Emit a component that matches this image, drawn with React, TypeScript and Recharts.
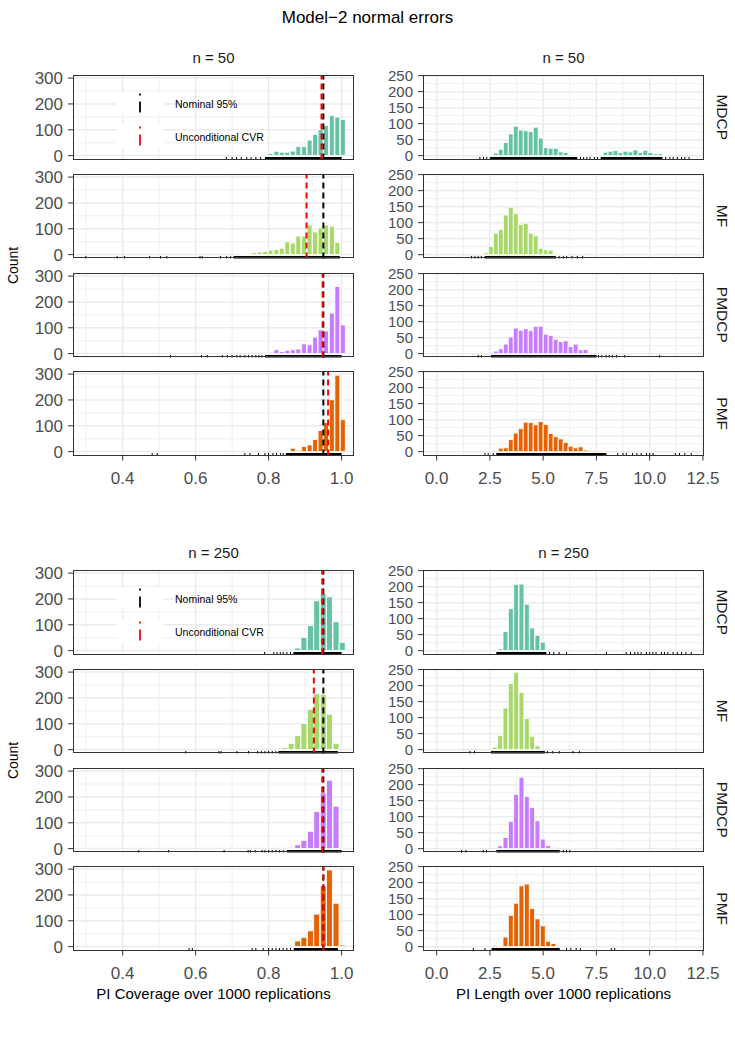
import React from 'react';
import { ComposedChart, Bar, XAxis, YAxis, CartesianGrid, ReferenceLine, ReferenceArea } from 'recharts';

const FONT = '"Liberation Sans", Arial, Helvetica, sans-serif';

// ---------- labels ----------
const chartTitle = 'Model\u22122 normal errors';
const methods = ['MDCP', 'MF', 'PMDCP', 'PMF'];
const methodColors = ['#66C2A5', '#A6D96A', '#C77CFF', '#E66101'];
const sampleSizeLabels = ['n = 50', 'n = 250'];
const coverageTitle = 'PI Coverage over 1000 replications';
const lengthTitle = 'PI Length over 1000 replications';
const countTitle = 'Count';
const legendLabels = ['Nominal 95%', 'Unconditional CVR'];
const legendColors = ['#000000', '#FF0000'];

// ---------- reference lines ----------
const nominalCoverage = 0.95;
const unconditionalCvrN50 = [0.945, 0.904, 0.948, 0.963];
const unconditionalCvrN250 = [0.947, 0.924, 0.947, 0.95];

// ---------- axis ticks ----------
const coverageTicks = [0.4, 0.6, 0.8, 1.0];
const coverageMinorTicks = [0.3, 0.5, 0.7, 0.9];
const lengthTicks = [0, 2.5, 5, 7.5, 10, 12.5];
const lengthMinorTicks = [1.25, 3.75, 6.25, 8.75, 11.25];
const coverageCountTicks = [0, 100, 200, 300];
const coverageCountMinor = [50, 150, 250];
const lengthCountTicks = [0, 50, 100, 150, 200, 250];
const lengthCountMinor = [25, 75, 125, 175, 225];
const coverageDomain = [0.264, 1.034];
const lengthDomain = [-0.64, 12.55];
const coverageCountDomain = [-15, 312];
const lengthCountDomain = [-12, 252];

// ---------- coverage histograms, n = 50 ----------
const covBinsN50 = [0.730, 0.746, 0.761, 0.776, 0.791, 0.806, 0.822, 0.837, 0.852, 0.867, 0.882, 0.898, 0.913, 0.928, 0.943, 0.958, 0.974, 0.989, 1.004];
const covMdcpN50 = [0, 1, 0, 1, 3, 8, 17, 13, 13, 18, 35, 35, 60, 82, 101, 117, 155, 149, 140];
const covMfN50 = [2, 4, 8, 10, 12, 17, 20, 25, 50, 45, 72, 72, 115, 88, 103, 115, 110, 47, 0];
const covPmdcpN50 = [0, 0, 0, 0, 2, 5, 15, 8, 13, 15, 18, 38, 34, 64, 92, 88, 157, 260, 111];
const covPmfN50 = [0, 0, 0, 0, 0, 0, 0, 0, 1, 13, 5, 20, 26, 47, 82, 112, 201, 296, 124];

// ---------- coverage histograms, n = 250 ----------
const covBinsN250 = [0.792, 0.810, 0.827, 0.845, 0.862, 0.880, 0.897, 0.915, 0.932, 0.950, 0.967, 0.985, 1.002];
const covMdcpN250 = [0, 0, 0, 0, 2, 10, 51, 97, 193, 220, 208, 112, 32];
const covMfN250 = [0, 0, 3, 8, 24, 54, 101, 156, 217, 214, 137, 24, 0];
const covPmdcpN250 = [0, 0, 0, 0, 3, 15, 32, 67, 144, 216, 265, 164, 2];
const covPmfN250 = [0, 0, 0, 0, 2, 22, 36, 61, 126, 235, 297, 168, 6];

// ---------- length histograms, n = 50 ----------
const lenBinsN50 = [2.078, 2.312, 2.546, 2.780, 3.014, 3.248, 3.482, 3.716, 3.950, 4.184, 4.418, 4.652, 4.886, 5.120, 5.354, 5.588, 5.822, 6.056, 6.290, 6.524, 6.758, 6.992, 7.226, 7.460, 7.694, 7.928, 8.162, 8.396, 8.630, 8.864, 9.098, 9.332, 9.566, 9.800, 10.034, 10.268, 10.502, 10.736];
const lenMdcpN50 = [0, 0, 1, 8, 20, 41, 68, 92, 80, 78, 75, 89, 55, 25, 23, 23, 12, 10, 4, 3, 1, 1, 0, 1, 2, 11, 14, 16, 10, 14, 12, 18, 10, 17, 10, 6, 6, 1];
const lenMfN50 = [0, 6, 26, 67, 79, 124, 148, 129, 94, 98, 67, 59, 20, 15, 14, 3, 2, 1, 0, 0, 0, 0, 0, 0, 0, 0, 0, 0, 0, 0, 0, 0, 0, 0, 0, 0, 0, 0];
const lenPmdcpN50 = [0, 0, 0, 8, 15, 30, 52, 80, 73, 78, 72, 86, 86, 61, 57, 45, 38, 40, 22, 30, 12, 13, 3, 0, 0, 0, 0, 0, 0, 0, 0, 0, 0, 0, 0, 0, 0, 0];
const lenPmfN50 = [0, 0, 0, 0, 11, 12, 38, 58, 72, 92, 91, 84, 94, 85, 57, 47, 40, 29, 17, 12, 15, 5, 4, 4, 3, 2, 0, 0, 0, 0, 0, 0, 0, 0, 0, 0, 0, 0];

// ---------- length histograms, n = 250 ----------
const lenBinsN250 = [2.49, 2.74, 2.99, 3.24, 3.49, 3.74, 3.99, 4.24, 4.49, 4.74, 4.99, 5.24, 5.49, 5.74, 10.24, 10.74];
const lenMdcpN250 = [0, 0, 5, 60, 131, 207, 208, 145, 71, 48, 27, 2, 0, 0, 3, 4];
const lenMfN250 = [0, 8, 44, 130, 207, 242, 179, 97, 42, 12, 0, 0, 0, 0, 0, 0];
const lenPmdcpN250 = [0, 0, 9, 35, 85, 170, 223, 163, 129, 87, 30, 10, 4, 0, 0, 0];
const lenPmfN250 = [0, 4, 2, 30, 98, 136, 190, 196, 119, 87, 65, 17, 10, 0, 0, 0];

// ---------- rug marks (single values and dense stretches) ----------
const covRugN50 = [
  [0.684, 0.70, 0.712, 0.725, 0.74, 0.752, 0.765, 0.778],
  [0.299, 0.385, 0.405, 0.474, 0.504, 0.521, 0.612, 0.618, 0.668, 0.685, 0.696],
  [0.531, 0.616, 0.632, 0.673, 0.687, 0.70, 0.713, 0.722, 0.735, 0.745, 0.755, 0.765, 0.773, 0.782],
  [0.481, 0.495, 0.735, 0.749, 0.772, 0.79, 0.80, 0.812, 0.822, 0.833, 0.84],
];
const covRugBandN50 = [[[0.79, 1.0]], [[0.704, 0.995]], [[0.79, 1.0]], [[0.847, 1.0]]];
const covRugN250 = [
  [0.789, 0.814, 0.823, 0.832, 0.84, 0.85, 0.86],
  [0.573, 0.664, 0.67, 0.713, 0.745, 0.77, 0.78, 0.79, 0.80, 0.81, 0.82],
  [0.444, 0.526, 0.678, 0.744, 0.75, 0.763, 0.782, 0.79, 0.80, 0.81, 0.82, 0.83, 0.84],
  [0.582, 0.591, 0.755, 0.765, 0.785, 0.80, 0.81, 0.82, 0.83, 0.84, 0.85, 0.86],
];
const covRugBandN250 = [[[0.868, 1.0]], [[0.827, 0.99]], [[0.85, 1.0]], [[0.869, 0.99]]];
const lenRugN50 = [
  [2.03, 2.2, 2.35, 6.75, 6.9, 7.05, 7.2, 7.4, 7.55, 10.75, 10.95, 11.1, 11.3, 11.5, 11.65, 11.85],
  [1.64, 1.8, 1.95, 2.1, 5.75, 5.95, 6.1, 6.35, 6.6, 6.85],
  [1.95, 2.1, 7.6, 7.75, 7.95, 8.1, 8.25, 8.44, 8.83, 10.47],
  [2.27, 2.42, 2.66, 8.5, 8.75, 8.9, 9.2, 9.4, 9.6, 9.85, 10.0, 10.16, 11.2, 11.4, 11.65, 11.95],
];
const lenRugBandN50 = [[[2.5, 6.6], [7.7, 10.6]], [[2.25, 5.6]], [[2.55, 7.5]], [[2.8, 7.97]]];
const lenRugN250 = [
  [5.3, 5.5, 5.75, 6.1, 7.97, 8.9, 9.1, 9.3, 9.45, 9.6, 9.85, 10.0, 10.15, 10.3, 10.55, 10.7, 10.85, 11.1, 11.3, 11.5, 11.7, 11.95],
  [1.56, 1.78, 5.2, 5.45, 5.75, 6.4, 6.7],
  [1.17, 1.38, 2.19, 2.34, 5.95, 6.1, 6.25],
  [1.72, 2.27, 6.1, 6.3, 6.55, 6.75, 8.2, 8.36],
];
const lenRugBandN250 = [[[2.8, 5.15]], [[2.55, 5.08]], [[2.8, 5.78]], [[2.58, 5.78]]];

// ---------- layout ----------
const PW = 281;
const PH = 84.5;
const PITCH = 98.8;
const LEFT_X = 73;
const RIGHT_X = 423;
const SECTION_TOPS = [75, 570];
const Y_AXIS_W = 64;
const X_AXIS_H = 40;
const PAD_V = 12;

type PanelProps = {
  left: number; top: number; bins: number[]; counts: number[]; color: string;
  xDomain: number[]; xMajor: number[]; xMinor: number[];
  yDomain: number[]; yMajor: number[]; yMinor: number[]; yFont: number;
  showX: boolean; refLines: { x: number; color: string }[];
  rugTicks: number[]; rugBands: number[][];
};

function Panel(p: PanelProps) {
  const padR = 26;
  const data = p.bins.map((b, i) => ({ x: b, count: p.counts[i] }));
  const y0 = p.yDomain[0];
  const y1 = y0 + (p.yDomain[1] - p.yDomain[0]) * 0.03;
  return (
    <div style={{ position: 'absolute', left: p.left - Y_AXIS_W, top: p.top - PAD_V }}>
      <ComposedChart
        width={Y_AXIS_W + PW + padR}
        height={PAD_V + PH + (p.showX ? X_AXIS_H : PAD_V)}
        data={data}
        margin={{ top: PAD_V, right: padR, bottom: p.showX ? 0 : PAD_V, left: 0 }}
        barCategoryGap={0}
        barGap={0}
      >
        <CartesianGrid horizontalValues={p.yMinor} verticalValues={p.xMinor} stroke="#EBEBEB" strokeWidth={0.8} />
        <CartesianGrid horizontalValues={p.yMajor} verticalValues={p.xMajor} stroke="#EBEBEB" strokeWidth={1.5} />
        <XAxis
          type="number" dataKey="x" domain={p.xDomain} allowDataOverflow ticks={p.xMajor} interval={0}
          hide={!p.showX} height={X_AXIS_H} axisLine={false} tickSize={5} tickMargin={11}
          tickLine={{ stroke: '#333333' }}
          tick={{ fontSize: 17, fill: '#4D4D4D', fontFamily: FONT }}
          tickFormatter={(v: number) => v.toFixed(1)}
        />
        <YAxis
          type="number" domain={p.yDomain} allowDataOverflow ticks={p.yMajor} interval={0}
          width={Y_AXIS_W} axisLine={false} tickSize={5} tickMargin={5}
          tickLine={{ stroke: '#333333' }}
          tick={{ fontSize: p.yFont, fill: '#4D4D4D', fontFamily: FONT }}
        />
        <Bar dataKey="count" fill={p.color} stroke="#FFFFFF" strokeWidth={0.9} isAnimationActive={false} />
        {p.rugBands.map((r, i) => (
          <ReferenceArea key={'rb' + i} x1={r[0]} x2={r[1]} y1={y0} y2={y1} fill="#000" fillOpacity={1} stroke="none" ifOverflow="visible" />
        ))}
        {p.rugTicks.map((v, i) => (
          <ReferenceLine key={'rt' + i} segment={[{ x: v, y: y0 }, { x: v, y: y1 }]} stroke="#000" strokeWidth={1} ifOverflow="visible" />
        ))}
        {p.refLines.map((l, i) => (
          <ReferenceLine key={'rl' + i} x={l.x} stroke={l.color} strokeWidth={2} strokeDasharray="6 4" ifOverflow="visible" />
        ))}
      </ComposedChart>
      <div style={{ position: 'absolute', left: Y_AXIS_W, top: PAD_V, width: PW, height: PH, border: '1.3px solid #333333', boxSizing: 'border-box', pointerEvents: 'none' }} />
    </div>
  );
}

const sections = [
  {
    label: sampleSizeLabels[0],
    cvr: unconditionalCvrN50,
    cov: { bins: covBinsN50, counts: [covMdcpN50, covMfN50, covPmdcpN50, covPmfN50], rug: covRugN50, bands: covRugBandN50 },
    len: { bins: lenBinsN50, counts: [lenMdcpN50, lenMfN50, lenPmdcpN50, lenPmfN50], rug: lenRugN50, bands: lenRugBandN50 },
  },
  {
    label: sampleSizeLabels[1],
    cvr: unconditionalCvrN250,
    cov: { bins: covBinsN250, counts: [covMdcpN250, covMfN250, covPmdcpN250, covPmfN250], rug: covRugN250, bands: covRugBandN250 },
    len: { bins: lenBinsN250, counts: [lenMdcpN250, lenMfN250, lenPmdcpN250, lenPmfN250], rug: lenRugN250, bands: lenRugBandN250 },
  },
];

export default function App() {
  const panels: React.ReactNode[] = [];
  const texts: React.ReactNode[] = [];
  sections.forEach((s, si) => {
    const sTop = SECTION_TOPS[si];
    methods.forEach((m, mi) => {
      const top = sTop + mi * PITCH;
      const last = mi === methods.length - 1;
      panels.push(
        <Panel key={`c${si}${mi}`} left={LEFT_X} top={top} bins={s.cov.bins} counts={s.cov.counts[mi]} color={methodColors[mi]}
          xDomain={coverageDomain} xMajor={coverageTicks} xMinor={coverageMinorTicks}
          yDomain={coverageCountDomain} yMajor={coverageCountTicks} yMinor={coverageCountMinor} yFont={17}
          showX={last}
          refLines={[{ x: nominalCoverage, color: legendColors[0] }, { x: s.cvr[mi], color: legendColors[1] }]}
          rugTicks={s.cov.rug[mi]} rugBands={s.cov.bands[mi]} />
      );
      panels.push(
        <Panel key={`l${si}${mi}`} left={RIGHT_X} top={top} bins={s.len.bins} counts={s.len.counts[mi]} color={methodColors[mi]}
          xDomain={lengthDomain} xMajor={lengthTicks} xMinor={lengthMinorTicks}
          yDomain={lengthCountDomain} yMajor={lengthCountTicks} yMinor={lengthCountMinor} yFont={15}
          showX={last} refLines={[]}
          rugTicks={s.len.rug[mi]} rugBands={s.len.bands[mi]} />
      );
      texts.push(
        <text key={`m${si}${mi}`} transform={`translate(722, ${top + PH / 2}) rotate(90)`} textAnchor="middle" dominantBaseline="central" fontSize={15.5} fill="#1A1A1A">{m}</text>
      );
    });
    texts.push(<text key={`s1${si}`} x={LEFT_X + PW / 2} y={sTop - 18} textAnchor="middle" dominantBaseline="central" fontSize={15} fill="#1A1A1A">{s.label}</text>);
    texts.push(<text key={`s2${si}`} x={RIGHT_X + PW / 2} y={sTop - 18} textAnchor="middle" dominantBaseline="central" fontSize={15} fill="#1A1A1A">{s.label}</text>);
    texts.push(<text key={`cnt${si}`} transform={`translate(13, ${sTop + 1.5 * PITCH + PH / 2}) rotate(-90)`} textAnchor="middle" dominantBaseline="central" fontSize={14} fill="#000">{countTitle}</text>);
    // legend
    legendLabels.forEach((lab, li) => {
      const ky = sTop + 17 + li * 33;
      texts.push(<rect key={`lk${si}${li}`} x={117} y={ky} width={46} height={22} fill="#FFFFFF" />);
      texts.push(<line key={`ll${si}${li}`} x1={140} x2={140} y1={ky + 1.5} y2={ky + 21} stroke={legendColors[li]} strokeWidth={1.8} strokeDasharray="2 6 11 20" />);
      texts.push(<text key={`lt${si}${li}`} x={175} y={ky + 12} dominantBaseline="central" fontSize={10.5} fill="#000">{lab}</text>);
    });
  });

  return (
    <div style={{ position: 'absolute', left: 0, top: 0, width: 735, height: 1047, background: '#FFFFFF', fontFamily: FONT }}>
      {panels}
      <svg width={735} height={1047} style={{ position: 'absolute', left: 0, top: 0, pointerEvents: 'none', fontFamily: FONT }}>
        <text x={367.5} y={17} textAnchor="middle" dominantBaseline="central" fontSize={17} fill="#000">{chartTitle}</text>
        {texts}
        <text x={LEFT_X + PW / 2} y={993} textAnchor="middle" dominantBaseline="central" fontSize={15} fill="#000">{coverageTitle}</text>
        <text x={RIGHT_X + PW / 2} y={993} textAnchor="middle" dominantBaseline="central" fontSize={15} fill="#000">{lengthTitle}</text>
      </svg>
    </div>
  );
}
